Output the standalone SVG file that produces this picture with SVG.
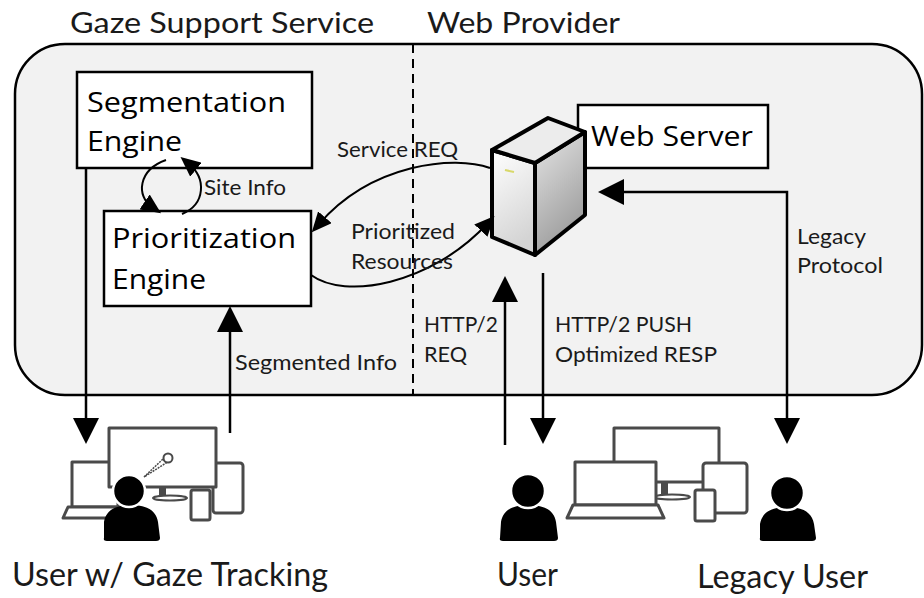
<svg xmlns="http://www.w3.org/2000/svg" width="924" height="598" viewBox="0 0 924 598">
  <defs>
    <style>
      .lbl { font-family: Lato, "Open Sans", sans-serif; fill: #1a1a1a; }
      .box-text { font-family: "Open Sans", Lato, sans-serif; font-size: 28px; fill: #000; }
      .small { font-size: 22px; }
      .head { font-size: 29px; }
      .foot { font-size: 32px; }
      .box { fill: #fff; stroke: #000; stroke-width: 2.5; }
      .wire { fill: none; stroke: #000; stroke-width: 2.5; }
      .thin { fill: none; stroke: #000; stroke-width: 2; }
      .dev { fill: #fff; stroke: #4a4a4a; stroke-width: 3; stroke-linejoin: round; }
      .person { fill: #000; }
    </style>
    <marker id="arrow" markerUnits="userSpaceOnUse" markerWidth="26" markerHeight="26" refX="12" refY="12" orient="auto-start-reverse" viewBox="0 0 24 24">
      <path d="M0,0 L24,12 L0,24 Z" fill="#000"/>
    </marker>
    <marker id="arrow-sm" markerUnits="userSpaceOnUse" markerWidth="20" markerHeight="18" refX="9" refY="9" orient="auto" viewBox="0 0 20 18">
      <path d="M0,0 L20,9 L0,18 Z" fill="#000"/>
    </marker>
    <linearGradient id="front" x1="0" y1="0" x2="0.3" y2="1">
      <stop offset="0" stop-color="#ffffff"/>
      <stop offset="1" stop-color="#d4d4d4"/>
    </linearGradient>
    <linearGradient id="side" x1="0" y1="0" x2="0.4" y2="1">
      <stop offset="0" stop-color="#e6e6e6"/>
      <stop offset="1" stop-color="#9c9c9c"/>
    </linearGradient>
  </defs>

  <!-- system boundary -->
  <rect x="15" y="44" width="907" height="351" rx="50" ry="50" fill="#f2f2f2" stroke="#000" stroke-width="2.5"/>
  <line x1="413" y1="44" x2="413" y2="395" stroke="#000" stroke-width="2" stroke-dasharray="9,6"/>

  <text class="lbl head" x="70" y="33" textLength="304" lengthAdjust="spacingAndGlyphs">Gaze Support Service</text>
  <text class="lbl head" x="427" y="33" textLength="193" lengthAdjust="spacingAndGlyphs">Web Provider</text>

  <!-- engines -->
  <g id="segmentation-engine">
    <rect class="box" x="77" y="72" width="235" height="96"/>
    <text class="box-text" x="87" y="112" textLength="199" lengthAdjust="spacingAndGlyphs">Segmentation</text>
    <text class="box-text" x="87" y="151" textLength="95" lengthAdjust="spacingAndGlyphs">Engine</text>
  </g>
  <g id="prioritization-engine">
    <rect class="box" x="104" y="211" width="207" height="95"/>
    <text class="box-text" x="112" y="248" textLength="184" lengthAdjust="spacingAndGlyphs">Prioritization</text>
    <text class="box-text" x="112" y="289" textLength="94" lengthAdjust="spacingAndGlyphs">Engine</text>
  </g>

  <!-- web server -->
  <g id="web-server">
    <rect class="box" x="578" y="105" width="190" height="63"/>
    <text class="box-text" x="591" y="146" textLength="162" lengthAdjust="spacingAndGlyphs">Web Server</text>
    <g stroke="#000" stroke-width="4" stroke-linejoin="round">
      <polygon points="492,150 535,163 535,255 492,237" fill="url(#front)"/>
      <polygon points="535,163 585,132 585,215 535,255" fill="url(#side)"/>
      <polygon points="492,150 548,118 585,132 535,163" fill="#ececec"/>
    </g>
    <line x1="505" y1="170" x2="514" y2="172" stroke="#d8d86a" stroke-width="2"/>
  </g>

  <!-- connectors -->
  <g id="connectors">
    <path class="wire" d="M86,168 V431" marker-end="url(#arrow)"/>
    <path class="wire" d="M230,433 V319" marker-end="url(#arrow)"/>
    <path class="wire" d="M505,445 V289" marker-end="url(#arrow)"/>
    <path class="wire" d="M543,273 V431" marker-end="url(#arrow)"/>
    <path class="wire" d="M787,431 V192 H611" marker-start="url(#arrow)" marker-end="url(#arrow)"/>
    <path class="thin" d="M490,168 C455,155 372,163 319,224" marker-end="url(#arrow-sm)"/>
    <path class="thin" d="M311,275 C345,300 430,285 487,224" marker-end="url(#arrow-sm)"/>
    <path class="thin" d="M166,160 C138,170 136,196 152,207" marker-end="url(#arrow-sm)"/>
    <path class="thin" d="M182,214 C206,204 206,178 189,164" marker-end="url(#arrow-sm)"/>
  </g>

  <!-- connector labels -->
  <text class="lbl small" x="204" y="195" textLength="82" lengthAdjust="spacingAndGlyphs">Site Info</text>
  <text class="lbl small" x="337" y="157" textLength="121" lengthAdjust="spacingAndGlyphs">Service REQ</text>
  <text class="lbl small" x="351" y="239" textLength="104" lengthAdjust="spacingAndGlyphs">Prioritized</text>
  <text class="lbl small" x="351" y="269" textLength="102" lengthAdjust="spacingAndGlyphs">Resources</text>
  <text class="lbl small" x="797" y="244" textLength="69" lengthAdjust="spacingAndGlyphs">Legacy</text>
  <text class="lbl small" x="797" y="273" textLength="86" lengthAdjust="spacingAndGlyphs">Protocol</text>
  <text class="lbl small" x="424" y="332" textLength="74" lengthAdjust="spacingAndGlyphs">HTTP/2</text>
  <text class="lbl small" x="424" y="362" textLength="43" lengthAdjust="spacingAndGlyphs">REQ</text>
  <text class="lbl small" x="555" y="332" textLength="137" lengthAdjust="spacingAndGlyphs">HTTP/2 PUSH</text>
  <text class="lbl small" x="555" y="362" textLength="162" lengthAdjust="spacingAndGlyphs">Optimized RESP</text>
  <text class="lbl small" x="235" y="370" textLength="162" lengthAdjust="spacingAndGlyphs">Segmented Info</text>

  <!-- user with gaze tracking -->
  <g id="gaze-user">
    <rect class="dev" x="72" y="462" width="46" height="45"/>
    <path class="dev" d="M63,518 L68,507 L122,507 L126,518 Z"/>
    <rect class="dev" x="213" y="463" width="30" height="50" rx="3"/>
    <rect class="dev" x="109" y="428" width="107" height="59"/>
    <rect x="159" y="487" width="7" height="10" fill="#4a4a4a"/>
    <ellipse cx="170" cy="498" rx="17" ry="2.5" fill="#fff" stroke="#4a4a4a" stroke-width="2"/>
    <rect class="dev" x="191" y="490" width="19" height="30" rx="2"/>
    <path d="M144,477 L163,459 L166,463 Z" fill="#fff" stroke="#4a4a4a" stroke-width="1.5" stroke-dasharray="2,1"/>
    <circle cx="168" cy="458" r="4.5" fill="#fff" stroke="#4a4a4a" stroke-width="2"/>
    <path class="person" d="M104,538 Q103,541 107,541 H156 Q160,541 160,538 L158,522 C156,510 146,505 131,505 C116,505 106,510 104,522 Z"/>
    <circle cx="129" cy="491" r="16" fill="#000" stroke="#fff" stroke-width="2.5"/>
    <text class="lbl foot" x="12" y="586" textLength="316" lengthAdjust="spacingAndGlyphs">User w/ Gaze Tracking</text>
  </g>

  <!-- user -->
  <g id="user">
    <path class="person" d="M500,538 Q499,541 503,541 H554 Q558,541 558,538 L556,522 C554,510 544,505 528,505 C513,505 503,510 501,522 Z"/>
    <circle cx="528" cy="491" r="17" fill="#000" stroke="#fff" stroke-width="2.5"/>
    <text class="lbl foot" x="497" y="586" textLength="61" lengthAdjust="spacingAndGlyphs">User</text>
  </g>

  <!-- shared devices -->
  <g id="devices">
    <rect class="dev" x="614" y="428" width="105" height="54"/>
    <rect x="661" y="482" width="7" height="15" fill="#4a4a4a"/>
    <ellipse cx="672" cy="497" rx="18" ry="2.5" fill="#fff" stroke="#4a4a4a" stroke-width="2"/>
    <rect class="dev" x="575" y="462" width="81" height="43"/>
    <path class="dev" d="M567,518 L573,505 L658,505 L664,518 Z"/>
    <rect class="dev" x="703" y="463" width="44" height="50" rx="3"/>
    <rect class="dev" x="695" y="490" width="20" height="31" rx="2"/>
  </g>

  <!-- legacy user -->
  <g id="legacy-user">
    <path class="person" d="M760,538 Q759,541 763,541 H812 Q816,541 816,538 L814,524 C812,512 802,507 787,507 C772,507 762,512 760,524 Z"/>
    <circle cx="787" cy="493" r="17" fill="#000" stroke="#fff" stroke-width="2.5"/>
    <text class="lbl foot" x="697" y="588" textLength="171" lengthAdjust="spacingAndGlyphs">Legacy User</text>
  </g>
</svg>
